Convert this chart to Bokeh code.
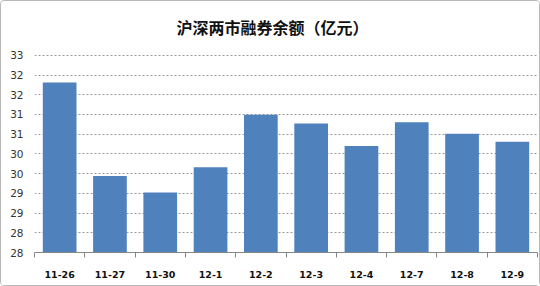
from bokeh.plotting import figure
from bokeh.models import FixedTicker, ColumnDataSource, Range1d
from bokeh.embed import file_html
from bokeh.resources import INLINE

title_text = "沪深两市融券余额（亿元）"
dates = ["11-26", "11-27", "11-30", "12-1", "12-2", "12-3", "12-4", "12-7", "12-8", "12-9"]
balance = [32.31, 29.94, 29.52, 30.16, 31.49, 31.27, 30.70, 31.30, 31.01, 30.81]
y_ticks = [28.0, 28.5, 29.0, 29.5, 30.0, 30.5, 31.0, 31.5, 32.0, 32.5, 33.0]
y_tick_labels = ["28", "28", "29", "29", "30", "30", "31", "31", "32", "32", "33"]

n = len(dates)
centers = [i + 0.5 for i in range(n)]
bounds = [float(i) for i in range(n + 1)]

p = figure(width=540, height=286, output_backend="svg", toolbar_location=None,
           x_range=Range1d(0, n), y_range=Range1d(28, 33.02),
           min_border_left=33, min_border_right=4, min_border_top=53, min_border_bottom=35)
p.background_fill_color = "white"
p.border_fill_color = "white"
p.outline_line_color = None

p.title.text = title_text
p.title.align = "left"
p.title.offset = 142
p.title.vertical_align = "top"
p.title.text_font = "Noto Sans CJK SC"
p.title.text_font_style = "bold"
p.title.text_font_size = "16px"
p.title.text_color = "#111111"
p.title.standoff = 27

src = ColumnDataSource(dict(x=centers, top=balance))
p.vbar(x="x", top="top", bottom=28, width=0.67, source=src,
       fill_color="#4F81BD", line_color=None)

# y axis
p.yaxis.ticker = FixedTicker(ticks=y_ticks)
p.yaxis.major_label_overrides = {t: l for t, l in zip(y_ticks, y_tick_labels)}
p.yaxis.axis_line_color = None
p.yaxis.major_tick_line_color = None
p.yaxis.minor_tick_line_color = None
p.yaxis.major_tick_in = 0
p.yaxis.major_tick_out = 0
p.yaxis.major_label_standoff = 11
p.yaxis.major_label_text_font = "DejaVu Sans"
p.yaxis.major_label_text_font_size = "10.5px"
p.yaxis.major_label_text_color = "#333333"

# x axis
p.xaxis.ticker = FixedTicker(ticks=centers, minor_ticks=bounds)
p.xaxis.major_label_overrides = {c: d for c, d in zip(centers, dates)}
p.xaxis.axis_line_color = "#868686"
p.xaxis.major_tick_line_color = None
p.xaxis.major_tick_in = 0
p.xaxis.major_tick_out = 0
p.xaxis.minor_tick_line_color = "#868686"
p.xaxis.minor_tick_out = 5
p.xaxis.minor_tick_in = 0
p.xaxis.major_label_standoff = 13
p.xaxis.major_label_text_font = "DejaVu Sans"
p.xaxis.major_label_text_font_style = "bold"
p.xaxis.major_label_text_font_size = "9.5px"
p.xaxis.major_label_text_color = "#111111"

p.xgrid.grid_line_color = None
p.ygrid.grid_line_color = "#9a9a9a"
p.ygrid.grid_line_dash = "2 2"
p.ygrid.ticker = FixedTicker(ticks=y_ticks)

p.styles = {"border": "1px solid #b8b8b8", "border-radius": "4px", "box-sizing": "border-box"}

open("out.html", "w").write(file_html(p, INLINE))
